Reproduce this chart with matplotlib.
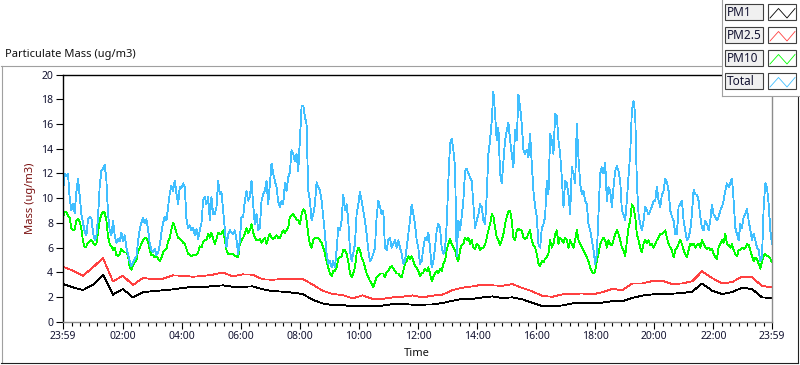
import matplotlib
matplotlib.use('Agg')

import matplotlib.pyplot as plt
import numpy as np
from matplotlib.lines import Line2D
from matplotlib.patches import Rectangle

plt.rcParams['font.family'] = ['Noto Sans', 'DejaVu Sans']

# time runs from 23:59 the day before to 23:59 (hours after midnight)
t_start = -1 / 60.
t_end = 24 - 1 / 60.
tick_hours = [t_start, 2, 4, 6, 8, 10, 12, 14, 16, 18, 20, 22, t_end]
tick_labels = ['23:59', '02:00', '04:00', '06:00', '08:00', '10:00', '12:00',
               '14:00', '16:00', '18:00', '20:00', '22:00', '23:59']
y_ticks = list(range(0, 21, 2))

series_names = ['PM1', 'PM2.5', 'PM10', 'Total']
series_colors = ['#000000', '#ff4040', '#00ff00', '#40bfff']

# ug/m3, evenly spaced over the day
total = [
    10.5, 12.0, 11.8, 12.0, 10.0, 9.0, 9.5, 8.8, 10.5, 11.6,
    10.2, 8.7, 8.0, 7.3, 7.0, 8.3, 8.5, 8.4, 7.2, 6.6,
    6.9, 8.5, 11.0, 12.2, 12.4, 12.7, 11.5, 8.7, 7.4, 7.0,
    8.2, 7.0, 6.4, 6.7, 6.5, 7.2, 6.5, 7.0, 6.0, 5.4,
    4.9, 4.5, 4.8, 5.1, 5.3, 6.5, 7.5, 8.0, 8.4, 8.0,
    8.3, 7.5, 6.3, 5.8, 5.6, 5.9, 5.4, 5.6, 6.2, 7.2,
    8.0, 8.5, 8.2, 9.3, 10.4, 11.0, 10.6, 11.4, 10.4, 9.5,
    10.9, 10.8, 11.2, 10.9, 8.3, 7.6, 7.8, 7.4, 7.6, 7.0,
    7.5, 6.7, 7.4, 8.0, 9.8, 10.1,
    9.5, 10.1, 8.2, 10.1, 8.7, 8.7, 9.3, 11.4, 10.3, 10.5,
    9.0, 7.4, 6.0, 7.1, 7.4, 7.2, 7.1, 7.4, 6.6, 5.5,
    6.6, 8.5, 8.5, 9.8, 10.6, 9.8, 10.1, 11.4, 9.5, 7.9,
    8.7, 7.4, 7.6, 9.8, 10.3, 10.6, 11.4, 9.5, 11.2, 12.8,
    12.0, 11.4, 10.9, 9.7, 9.3, 9.8, 9.5, 11.2, 10.6, 11.7,
    12.1, 13.9, 13.6, 13.0, 13.6, 12.2, 14.7, 17.4, 17.5, 16.6,
    16.0, 10.6, 9.8, 8.2, 8.7, 9.5, 11.3, 10.9, 10.6, 9.8,
    8.5, 7.1, 5.5, 4.7, 4.9, 4.4, 4.9, 4.4, 5.8, 7.6,
    7.4, 8.2, 10.3, 9.0,
    9.5, 8.2, 5.8, 4.9, 5.5, 6.3, 8.7, 9.5, 10.5, 9.8,
    9.0, 8.2, 7.1, 5.8, 4.9, 5.1, 5.5, 6.0, 8.5, 9.8,
    9.3, 8.7, 9.0, 6.0, 5.8, 6.6, 6.8, 6.0, 6.3, 6.6,
    6.0, 6.6, 6.0, 5.5, 4.7, 4.9, 6.0, 7.1, 8.2, 9.5,
    8.7, 7.9, 6.6, 6.0, 4.7, 4.9, 6.0, 6.8, 6.6, 7.2,
    6.0, 4.4, 4.9, 6.0, 7.4, 7.9, 7.6, 6.0, 5.5, 5.8,
    7.9, 11.4, 14.4, 14.8, 13.9, 12.5, 5.3, 8.2, 7.4, 8.5,
    9.8, 12.2, 12.4, 12.0, 11.7, 11.4, 9.5, 7.6, 8.2, 8.7,
    9.5, 9.3, 8.2, 7.9,
    10.3, 13.6, 14.7, 16.3, 18.6, 16.8, 14.7, 15.7, 12.0, 11.2,
    13.0, 14.7, 15.5, 16.1, 14.7, 13.6, 12.5, 15.5, 14.7, 18.4,
    17.4, 16.0, 13.9, 13.6, 13.9, 13.3, 15.2, 12.8, 10.6, 9.3,
    8.5, 6.3, 6.0, 7.6, 7.9, 8.5, 11.4, 10.3, 15.2, 14.7,
    13.6, 16.8, 16.7, 14.7, 13.6, 11.7, 9.3, 11.4, 11.2, 10.3,
    8.7, 12.5, 12.0, 11.2, 16.0, 13.3, 11.2, 10.3, 10.6, 9.8,
    9.5, 7.9, 7.4, 6.6, 5.8, 4.7, 5.5, 8.7, 12.0, 12.5,
    12.0, 12.9, 9.8, 10.9, 10.6, 9.3, 10.9, 12.2, 12.6, 12.2,
    11.4, 9.0, 8.7, 8.2,
    9.8, 11.8,
    13.6, 17.1, 17.9, 16.8, 11.2, 8.7, 7.9, 7.4, 8.2, 9.3,
    9.0, 8.7, 9.0, 9.3, 9.8, 9.8, 10.9, 9.8, 9.3, 10.3,
    10.6, 11.6, 11.3, 10.6, 9.0, 8.5, 8.2, 7.1, 7.1, 9.3,
    9.5, 9.8, 8.2, 7.4, 6.6, 6.8, 7.4, 8.7, 10.7, 10.3,
    10.3, 9.8, 8.5, 7.6, 7.4, 8.2, 7.9, 7.4, 8.2, 9.5,
    8.7, 8.5, 8.2, 8.5, 9.0, 9.3, 9.8, 10.6, 11.2, 10.9,
    11.2, 11.6, 9.8, 7.6, 7.1, 6.6, 7.9, 7.6, 8.5, 8.7,
    9.1, 8.2, 7.4, 6.6, 7.1, 6.6, 6.0, 5.8, 4.9, 5.2,
    9.3, 11.2, 10.9, 9.5, 7.4, 6.3,
]

pm10 = [
    8.4, 8.9, 8.9, 8.6, 8.4, 7.6, 7.4, 7.5, 8.2, 8.3,
    8.1, 7.5, 6.5, 6.0, 6.1, 6.4, 6.5, 6.6, 6.4, 6.2,
    6.3, 7.2, 8.2, 8.7, 8.9, 8.8, 8.2, 6.9, 6.3, 6.1,
    5.8, 6.0, 5.4, 5.3, 5.5, 5.9, 5.7, 5.6, 5.6, 5.3,
    4.4, 4.2, 4.6, 4.8, 5.0, 5.7, 6.0, 6.3, 6.6, 6.8,
    6.8, 6.5, 5.8, 5.4, 5.4, 5.2, 5.3, 5.1, 4.9, 5.2,
    5.6, 5.8, 5.9, 6.5, 6.8, 7.5, 8.0, 7.7, 7.2, 6.8,
    6.7, 6.6, 6.4, 6.3, 5.9, 5.5, 5.4, 5.3, 5.4, 5.4,
    5.4, 5.6, 6.1, 6.0, 6.5, 6.6,
    6.6, 7.1, 6.8, 7.2, 6.7, 6.3, 6.7, 7.2, 7.1, 7.1,
    7.4, 6.6, 5.8, 5.5, 5.5, 5.5, 5.5, 5.3, 5.3, 5.2,
    6.3, 6.6, 6.8, 7.1, 7.6, 7.2, 7.4, 7.9, 7.2, 6.8,
    6.6, 6.6, 6.7, 6.4, 6.6, 6.8, 6.3, 6.8, 7.1, 6.8,
    6.7, 6.8, 7.0, 6.8, 6.8, 7.1, 7.4, 7.2, 7.4, 7.6,
    8.5, 8.6, 8.7, 8.5, 8.3, 8.2, 7.9, 8.7, 9.1, 9.0,
    8.2, 7.1, 6.3, 6.0, 6.6, 6.8, 6.8, 6.8, 6.6, 6.4,
    6.0, 5.5, 4.9, 4.4, 3.9, 3.7, 4.1, 4.1, 4.4, 5.1,
    5.2, 5.3, 5.8, 5.8,
    5.5, 4.9, 3.9, 3.6, 3.9, 4.4, 5.5, 6.0, 5.8, 5.2,
    4.9, 4.4, 3.9, 3.6, 3.3, 3.1, 2.8, 3.2, 3.6, 3.7,
    3.9, 3.9, 3.9, 3.6, 4.0, 4.1, 4.4, 4.5, 4.3, 4.1,
    3.9, 3.9, 3.7, 3.6, 4.1, 4.7, 4.9, 5.3, 5.1, 5.3,
    4.9, 4.5, 4.4, 4.1, 3.7, 3.9, 4.0, 4.3, 4.1, 4.4,
    3.9, 3.3, 3.6, 3.9, 4.1, 3.9, 4.3, 4.1, 4.7, 4.9,
    5.8, 6.3, 6.7, 6.3, 6.0, 5.8, 5.2, 4.9, 5.8, 6.2,
    6.3, 6.8, 6.6, 6.8, 6.3, 6.6, 6.0, 5.9, 6.3, 6.2,
    5.8, 6.0, 6.0, 6.2,
    6.8, 7.4, 7.9, 8.7, 8.5, 7.6, 6.8, 6.6, 6.2, 6.6,
    7.1, 7.9, 8.5, 8.9, 9.0, 8.2, 6.8, 6.6, 7.4, 7.5,
    7.4, 7.4, 6.8, 6.7, 6.8, 7.1, 7.4, 6.6, 6.2, 6.0,
    5.5, 4.7, 4.5, 4.9, 4.8, 5.1, 5.2, 5.5, 6.6, 6.0,
    6.3, 7.1, 7.4, 6.3, 6.8, 6.6, 6.4, 6.8, 6.6, 6.0,
    6.6, 6.3, 6.0, 6.6, 7.4, 6.6, 6.3, 6.0, 5.8, 5.5,
    5.2, 4.9, 4.4, 4.1, 3.9, 4.1, 4.9, 5.5, 6.3, 6.6,
    6.8, 6.6, 6.0, 6.6, 6.3, 6.2, 6.6, 7.1, 7.4, 7.1,
    6.6, 6.0, 5.8, 5.3,
    6.5, 7.6,
    8.2, 9.5, 9.3, 8.5, 7.1, 6.6, 6.0, 5.6, 6.3, 6.6,
    6.4, 6.6, 6.2, 6.3, 6.0, 6.3, 6.6, 6.8, 7.1, 7.1,
    7.2, 7.4, 6.8, 6.3, 6.0, 5.8, 5.2, 5.8, 6.0, 6.3,
    6.6, 6.3, 5.8, 5.5, 5.2, 5.8, 6.3, 6.2, 6.3, 6.0,
    6.2, 6.3, 6.0, 6.6, 6.3, 6.0, 5.9, 6.0, 5.8, 5.9,
    5.5, 5.2, 5.1, 6.0, 6.3, 6.6, 6.4, 7.1, 6.3, 6.2,
    6.0, 6.3, 5.8, 5.5, 5.3, 5.8, 5.8, 6.0, 5.9, 6.0,
    6.3, 6.2, 5.8, 5.3, 4.9, 5.2, 5.1, 4.7, 4.3, 4.9,
    5.3, 5.5, 5.3, 5.3, 5.1, 4.8,
]

pm25 = [
    4.45, 4.13, 3.72, 4.40, 5.16, 3.27, 3.72, 2.97, 3.54, 3.45, 3.48, 3.75, 3.72, 3.64, 3.70,
    3.81, 3.99, 3.67, 3.83, 3.81, 3.43, 3.40, 3.45, 3.45, 3.48, 3.00, 2.51, 2.24, 2.16,
    1.89, 2.13, 1.84, 1.84, 1.97, 2.02, 2.13, 1.97, 2.11, 2.19, 2.56, 2.75, 2.86, 3.00,
    2.94, 2.91, 3.05, 2.73, 2.46, 2.08, 2.02, 2.21, 2.24, 2.29, 2.21, 2.38, 2.65, 2.56,
    3.10, 3.10, 3.29, 3.32, 3.05, 3.10, 3.27, 4.08, 3.54, 3.10, 3.21, 3.64, 3.59, 2.89, 2.78,
]

pm1 = [
    3.05, 2.78, 2.56, 3.00, 3.81, 2.19, 2.65, 1.97, 2.38, 2.48, 2.54, 2.62, 2.73, 2.83, 2.78,
    2.89, 2.94, 2.83, 2.83, 2.86, 2.62, 2.48, 2.43, 2.35, 2.24, 1.78, 1.48, 1.35, 1.35,
    1.24, 1.27, 1.27, 1.30, 1.43, 1.43, 1.38, 1.38, 1.40, 1.51, 1.70, 1.84, 1.84, 1.97,
    2.05, 1.92, 1.97, 1.81, 1.54, 1.27, 1.24, 1.32, 1.48, 1.51, 1.48, 1.54, 1.67, 1.65,
    1.92, 2.11, 2.21, 2.24, 2.27, 2.32, 2.43, 3.10, 2.51, 2.24, 2.40, 2.75, 2.65, 1.97, 1.92,
]

W, H = 800, 365


def fx(x):
    return x / W


def fy(y):
    return 1 - y / H


fig = plt.figure(figsize=(W / 100, H / 100), dpi=100)
fig.patch.set_facecolor('white')

# outer frame of the graph control
fig.add_artist(Line2D([fx(1), fx(722)], [fy(65.5), fy(65.5)], color='#a0a0a0', lw=0.8))
fig.add_artist(Line2D([fx(1.5), fx(1.5)], [fy(65.5), fy(363)], color='#a0a0a0', lw=0.8))
fig.add_artist(Line2D([fx(1), fx(798)], [fy(363), fy(363)], color='#202020', lw=0.8))
fig.add_artist(Line2D([fx(798), fx(798)], [fy(96), fy(363)], color='#202020', lw=0.8))

fig.text(fx(5), fy(55), 'Particulate Mass (ug/m3)', ha='left', va='center',
         fontsize=8, color='#111111')

ax = fig.add_axes([fx(63), fy(321.7), fx(772) - fx(63), fy(74.7) - fy(321.7)])

series = [pm1, pm25, pm10, total]
for vals, name, color in zip(series, series_names, series_colors):
    t = np.linspace(t_start, t_end, len(vals))
    ax.plot(t, vals, color=color, lw=0.6, antialiased=False, label=name)

ax.set_xlim(t_start, t_end)
ax.set_ylim(0, 20)
ax.set_yticks(y_ticks)
ax.set_xticks(tick_hours)
ax.set_xticklabels(tick_labels)
minor = []
for a, b in zip(tick_hours[:-1], tick_hours[1:]):
    minor.extend(np.linspace(a, b, 8)[1:-1])
ax.set_xticks(minor, minor=True)

ax.tick_params(which='major', length=5, width=0.8, direction='out',
               labelsize=7.5, labelcolor='#141432', pad=2)
ax.tick_params(which='minor', length=3, width=0.8, direction='out')

for side in ['top', 'left']:
    ax.spines[side].set_color('black')
    ax.spines[side].set_linewidth(1.0)
for side in ['bottom', 'right']:
    ax.spines[side].set_color('#8c8c8c')
    ax.spines[side].set_linewidth(1.0)

fig.text(fx(417), fy(354), 'Time', ha='center', va='center', fontsize=8, color='#111111')
fig.text(fx(31), fy(198), 'Mass (ug/m3)', ha='center', va='center', rotation=90,
         fontsize=8, color='#7a1010')

# legend panel in the top right corner, drawn in pixel units
lax = fig.add_axes([fx(722), fy(96), fx(800) - fx(722), fy(0) - fy(96)], zorder=5)
lax.set_xlim(722, 800)
lax.set_ylim(96, 0)
lax.set_facecolor('white')
lax.set_xticks([])
lax.set_yticks([])
for side in ['top', 'right']:
    lax.spines[side].set_visible(False)
for side in ['left', 'bottom']:
    lax.spines[side].set_color('#a0a0a0')
    lax.spines[side].set_linewidth(0.8)

for i, (name, color) in enumerate(zip(series_names, series_colors)):
    y0 = 4 + 23 * i
    lax.add_patch(Rectangle((725, y0), 38, 16, facecolor='#f0f0f0',
                            edgecolor='#404040', lw=0.8))
    lax.text(727, y0 + 8.5, name, ha='left', va='center', fontsize=8.5, color='#141432')
    lax.add_patch(Rectangle((768, y0), 28, 16, facecolor='white',
                            edgecolor='#404040', lw=0.8))
    lax.plot([770, 778.5, 787, 795], [y0 + 14, y0 + 4.5, y0 + 14, y0 + 4.5],
             color=color, lw=0.6)

fig.savefig('out.png', dpi=100)
